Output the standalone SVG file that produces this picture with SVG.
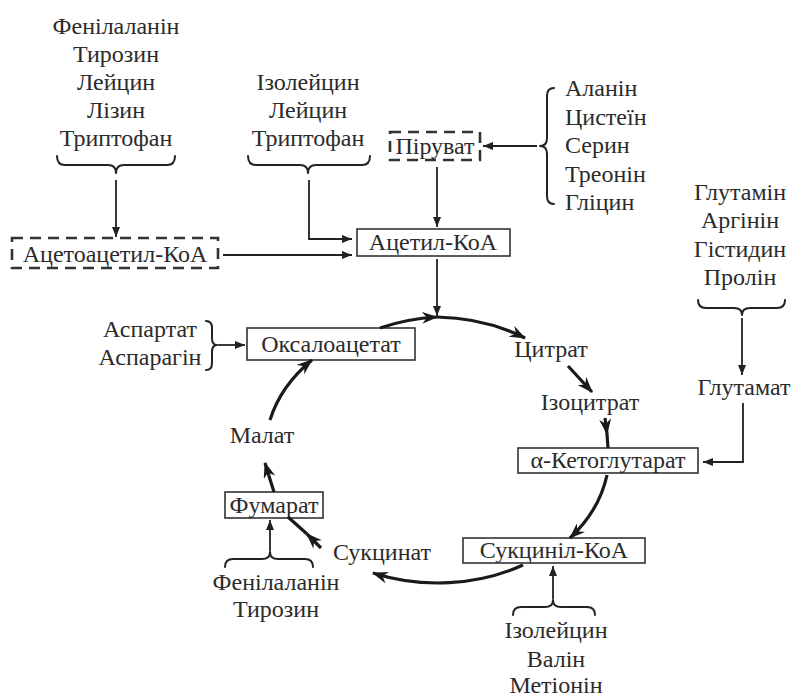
<svg xmlns="http://www.w3.org/2000/svg" width="793" height="697" viewBox="0 0 793 697">
  <style>
    text { font-size: 24px; fill: #2b2b2b; text-anchor: middle; }
    text.left { text-anchor: start; }
    .box { fill: #fff; stroke: #333; stroke-width: 1.6; }
    .dash { fill: #fff; stroke: #333; stroke-width: 2.6; stroke-dasharray: 11 7; }
    .thin { fill: none; stroke: #222; stroke-width: 1.8; }
    .thick { fill: none; stroke: #1a1a1a; stroke-width: 3.2; }
    .brace { fill: none; stroke: #222; stroke-width: 2; stroke-linecap: round; stroke-linejoin: round; }
  </style>
  <defs>
    <marker id="tri" viewBox="0 0 10 8" refX="10" refY="4" markerWidth="11" markerHeight="8" markerUnits="userSpaceOnUse" orient="auto">
      <path d="M0,0 L10,4 L0,8 Z" fill="#222"/>
    </marker>
    <marker id="stealth" viewBox="0 0 16 12" refX="15" refY="6" markerWidth="16" markerHeight="12" markerUnits="userSpaceOnUse" orient="auto">
      <path d="M0,0 L16,6 L0,12 L5,6 Z" fill="#1a1a1a"/>
    </marker>
  </defs>
  <rect width="793" height="697" fill="#fff"/>

  <g font-family="'Liberation Serif', 'Times New Roman', serif">
  <!-- source amino acid lists with braces -->
  <g id="ketogenic-group">
    <text x="116" y="34">Фенілаланін</text>
    <text x="116" y="62">Тирозин</text>
    <text x="116" y="90">Лейцин</text>
    <text x="116" y="118">Лізин</text>
    <text x="116" y="146">Триптофан</text>
    <path class="brace" d="M57,156 Q57,165 65,165 L108,165 Q116,165 116,173 Q116,165 124,165 L167,165 Q175,165 175,156"/>
  </g>
  <g id="acetyl-group">
    <text x="308" y="90">Ізолейцин</text>
    <text x="308" y="118">Лейцин</text>
    <text x="308" y="146">Триптофан</text>
    <path class="brace" d="M248,156 Q248,165 256,165 L300,165 Q308,165 308,173 Q308,165 316,165 L362,165 Q370,165 370,156"/>
  </g>
  <g id="pyruvate-group">
    <text class="left" x="565" y="96">Аланін</text>
    <text class="left" x="565" y="125">Цистеїн</text>
    <text class="left" x="565" y="153">Серин</text>
    <text class="left" x="565" y="182">Треонін</text>
    <text class="left" x="565" y="210">Гліцин</text>
    <path class="brace" d="M554,88 Q547,88 547,96 L547,138 Q547,146 540,146 Q547,146 547,154 L547,196 Q547,204 554,204"/>
  </g>
  <g id="glutamate-group">
    <text x="740" y="200">Глутамін</text>
    <text x="740" y="228">Аргінін</text>
    <text x="740" y="257">Гістидин</text>
    <text x="740" y="285">Пролін</text>
    <path class="brace" d="M698,300 Q698,308 706,308 L734,308 Q742,308 742,315 Q742,308 750,308 L777,308 Q785,308 785,300"/>
  </g>
  <g id="aspartate-group">
    <text x="150" y="337">Аспартат</text>
    <text x="150" y="365">Аспарагін</text>
    <path class="brace" d="M206,321 Q212,321 212,328 L212,338 Q212,345 217,345 Q212,345 212,352 L212,363 Q212,370 206,370"/>
  </g>
  <g id="fumarate-group">
    <text x="276" y="590">Фенілаланін</text>
    <text x="276" y="617">Тирозин</text>
    <path class="brace" d="M225,567 Q225,559 233,559 L262,559 Q270,559 270,552 Q270,559 278,559 L305,559 Q313,559 313,567"/>
  </g>
  <g id="succinyl-group">
    <text x="556" y="638">Ізолейцин</text>
    <text x="556" y="667">Валін</text>
    <text x="556" y="693">Метіонін</text>
    <path class="brace" d="M513,615 Q513,607 521,607 L545,607 Q553,607 553,600 Q553,607 561,607 L587,607 Q595,607 595,615"/>
  </g>

  <!-- intermediates -->
  <g id="acetoacetyl-coa">
    <rect class="dash" x="12" y="238" width="206" height="30"/>
    <text x="115" y="262">Ацетоацетил-КоА</text>
  </g>
  <g id="pyruvate">
    <rect class="dash" x="390" y="132" width="90" height="28"/>
    <text x="435" y="154">Піруват</text>
  </g>
  <g id="acetyl-coa">
    <rect class="box" x="357" y="229" width="153" height="27"/>
    <text x="433" y="250">Ацетил-КоА</text>
  </g>
  <g id="oxaloacetate">
    <rect class="box" x="247" y="328" width="168" height="32"/>
    <text x="331" y="352">Оксалоацетат</text>
  </g>
  <g id="citrate">
    <text x="551" y="357">Цитрат</text>
  </g>
  <g id="isocitrate">
    <text x="590" y="410">Ізоцитрат</text>
  </g>
  <g id="glutamate">
    <text x="744" y="395">Глутамат</text>
  </g>
  <g id="alpha-ketoglutarate">
    <rect class="box" x="518" y="448" width="180" height="25"/>
    <text x="608" y="468">α-Кетоглутарат</text>
  </g>
  <g id="succinyl-coa">
    <rect class="box" x="463" y="538" width="182" height="25"/>
    <text x="554" y="558">Сукциніл-КоА</text>
  </g>
  <g id="succinate">
    <text x="382" y="560">Сукцинат</text>
  </g>
  <g id="fumarate">
    <rect class="box" x="225" y="492" width="98" height="26"/>
    <text x="274" y="513">Фумарат</text>
  </g>
  <g id="malate">
    <text x="262" y="443">Малат</text>
  </g>
  </g>

  <!-- connectors -->
  <g id="connectors">
    <!-- feeder arrows -->
    <path class="thin" d="M116,180 L116,237" marker-end="url(#tri)"/>
    <path class="thin" d="M309,180 L309,239 L352,239" marker-end="url(#tri)"/>
    <path class="thin" d="M223,255 L352,255" marker-end="url(#tri)"/>
    <path class="thin" d="M537,146 L483,146" marker-end="url(#tri)"/>
    <path class="thin" d="M437,167 L437,227" marker-end="url(#tri)"/>
    <path class="thin" d="M437,259 L437,316" marker-end="url(#tri)"/>
    <path class="thin" d="M742,318 L742,375" marker-end="url(#tri)"/>
    <path class="thin" d="M743,403 L743,462 L703,462" marker-end="url(#tri)"/>
    <path class="thin" d="M218,345 L245,345" marker-end="url(#tri)"/>
    <path class="thin" d="M270,551 L270,520" marker-end="url(#tri)"/>
    <path class="thin" d="M553,599 L553,566" marker-end="url(#tri)"/>

    <!-- cycle -->
    <path class="thick" d="M380,328 A170,133 0 0 1 437,317" marker-end="url(#stealth)"/>
    <path class="thick" d="M437,317 A170,133 0 0 1 525,338" marker-end="url(#stealth)"/>
    <path class="thick" d="M568,366 L592,392" marker-end="url(#stealth)"/>
    <path class="thick" d="M605,418 L607,434" marker-end="url(#stealth)"/>
    <path class="thick" d="M607,434 L608,448"/>
    <path class="thick" d="M607,475 A170,133 0 0 1 570,538" marker-end="url(#stealth)"/>
    <path class="thick" d="M523,565 A170,133 0 0 1 373,573" marker-end="url(#stealth)"/>
    <path class="thick" d="M321,548 L307,534" marker-end="url(#stealth)"/>
    <path class="thick" d="M307,534 L288,517"/>
    <path class="thick" d="M274,492 L265,463" marker-end="url(#stealth)"/>
    <path class="thick" d="M270,420 A170,133 0 0 1 312,360" marker-end="url(#stealth)"/>
  </g>
</svg>
